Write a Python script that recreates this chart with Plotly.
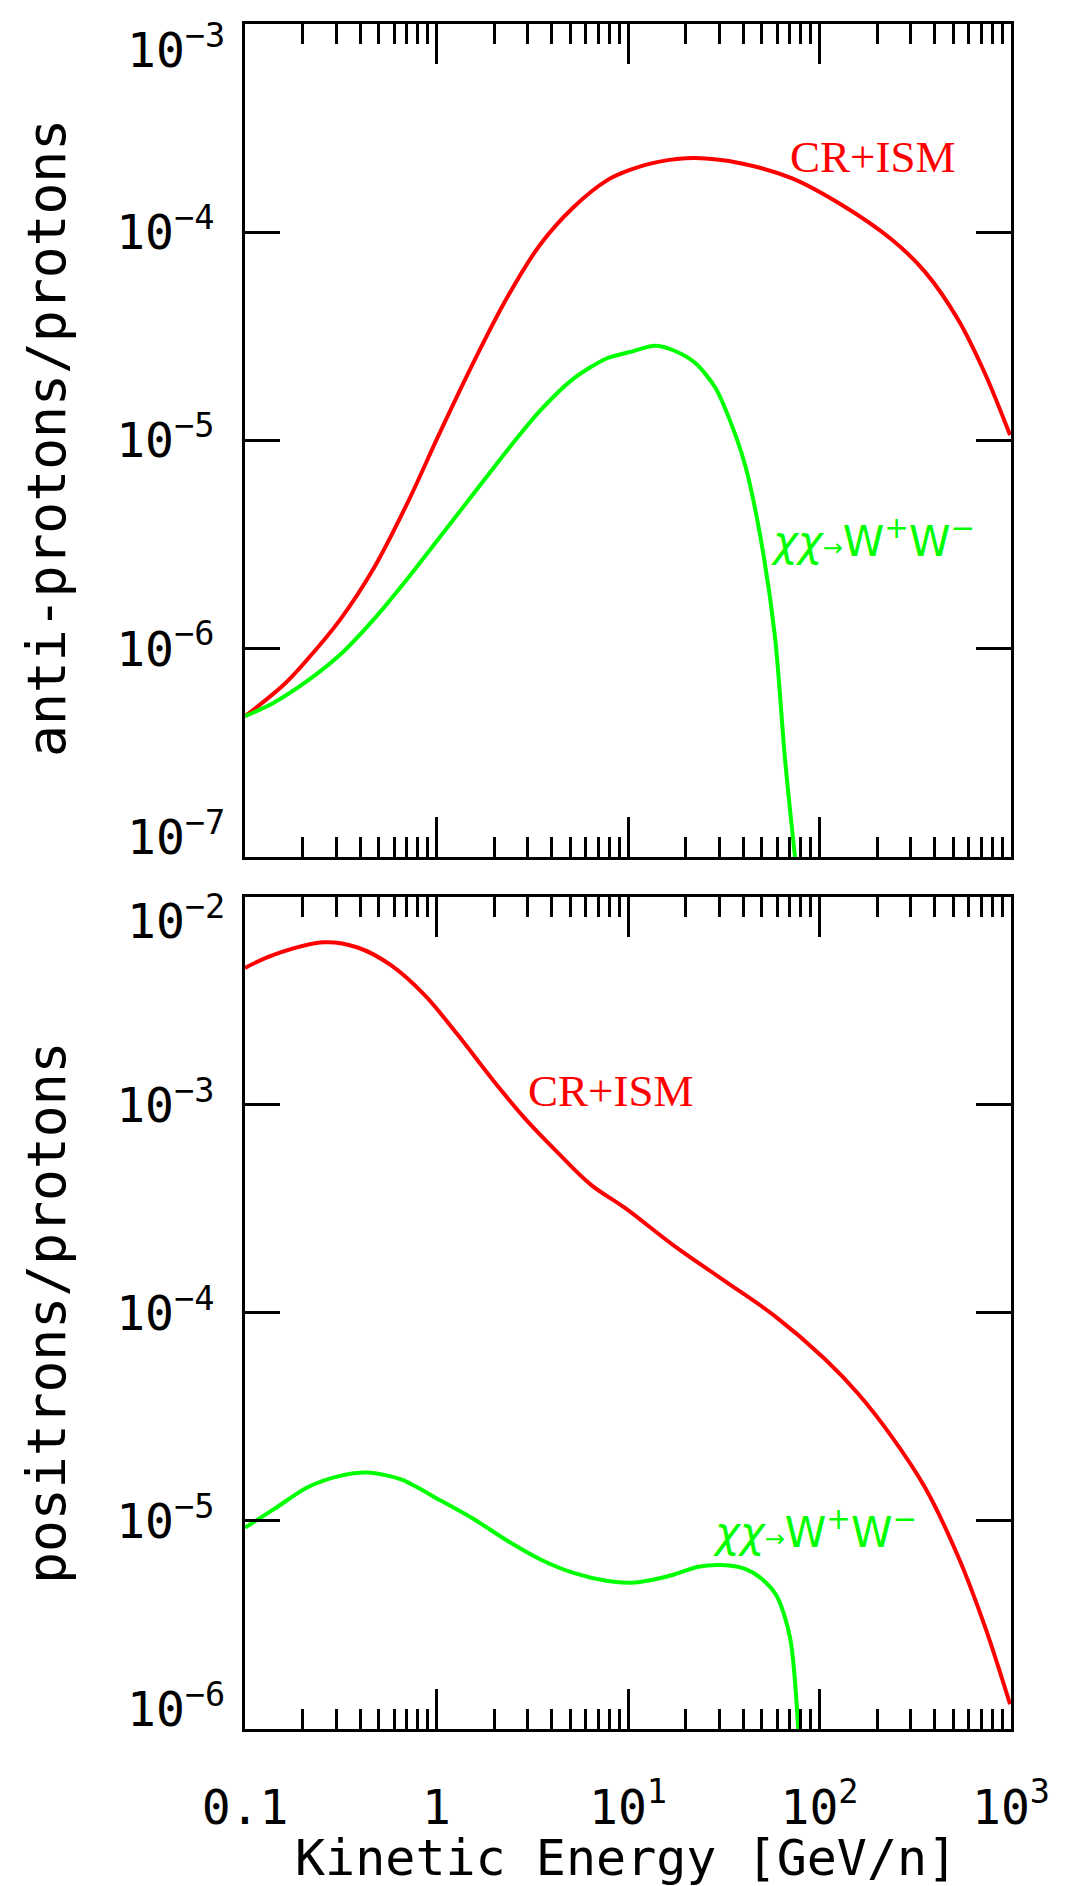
import plotly.graph_objects as go

# ---------------- data ----------------
# top panel: anti-protons / protons  (log10 of kinetic energy, log10 of ratio)
pbar_cr_logE = [-1.0, -0.795, -0.678, -0.504, -0.330, -0.156, 0.018, 0.192, 0.366, 0.540,
                0.714, 0.888, 1.01, 1.158, 1.350, 1.593, 1.854, 2.115, 2.377, 2.551,
                2.725, 2.864, 2.995]
pbar_cr_logV = [-6.324, -6.17, -6.055, -5.861, -5.617, -5.308, -4.961, -4.627, -4.318, -4.061,
                -3.881, -3.752, -3.701, -3.662, -3.644, -3.670, -3.740, -3.868, -4.035, -4.190,
                -4.421, -4.678, -4.974]

pbar_dm_logE = [-1.0, -0.852, -0.678, -0.504, -0.330, -0.156, 0.018, 0.192, 0.366, 0.540,
                0.714, 0.888, 1.01, 1.141, 1.245, 1.350, 1.454, 1.524, 1.611, 1.689,
                1.767, 1.820, 1.872]
pbar_dm_logV = [-6.324, -6.260, -6.157, -6.029, -5.861, -5.668, -5.463, -5.257, -5.051, -4.858,
                -4.704, -4.606, -4.575, -4.545, -4.570, -4.627, -4.743, -4.884, -5.116, -5.450,
                -5.939, -6.531, -7.0]

# bottom panel: positrons / protons
pos_cr_logE = [-1.0, -0.847, -0.586, -0.412, -0.238, -0.064, 0.111, 0.285, 0.459, 0.633,
               0.807, 0.984, 1.245, 1.506, 1.767, 2.028, 2.202, 2.377, 2.551, 2.725,
               2.864, 2.995]
pos_cr_logV = [-2.341, -2.277, -2.218, -2.243, -2.328, -2.470, -2.663, -2.869, -3.062, -3.229,
               -3.384, -3.495, -3.680, -3.847, -4.015, -4.221, -4.388, -4.594, -4.839, -5.173,
               -5.508, -5.881]

pos_dm_logE = [-1.0, -0.847, -0.673, -0.499, -0.359, -0.185, 0.024, 0.198, 0.372, 0.546,
               0.720, 0.894, 1.016, 1.123, 1.245, 1.367, 1.489, 1.611, 1.689, 1.776,
               1.846, 1.889]
pos_dm_logV = [-5.032, -4.942, -4.838, -4.782, -4.767, -4.800, -4.903, -4.993, -5.096, -5.186,
               -5.251, -5.289, -5.297, -5.284, -5.256, -5.220, -5.212, -5.230, -5.271, -5.359,
               -5.560, -6.0]

x_major = [0.1, 1, 10, 100, 1000]
x_major_text = ["0.1", "1", "10<sup>1</sup>", "10<sup>2</sup>", "10<sup>3</sup>"]
y_top_major = [1e-7, 1e-6, 1e-5, 1e-4, 1e-3]
y_top_text = ["10<sup>−7</sup>", "10<sup>−6</sup>", "10<sup>−5</sup>", "10<sup>−4</sup>", "10<sup>−3</sup>"]
y_bot_major = [1e-6, 1e-5, 1e-4, 1e-3, 1e-2]
y_bot_text = ["10<sup>−6</sup>", "10<sup>−5</sup>", "10<sup>−4</sup>", "10<sup>−3</sup>", "10<sup>−2</sup>"]

RED = "#ff0000"
GREEN = "#00ff00"
AXFONT = "DejaVu Sans Mono"


def pw(a):
    return [10.0 ** v for v in a]


fig = go.Figure()
fig.add_trace(go.Scatter(x=pw(pbar_cr_logE), y=pw(pbar_cr_logV), mode="lines",
                         line=dict(color=RED, width=4, shape="spline", smoothing=1.0),
                         xaxis="x", yaxis="y", showlegend=False))
fig.add_trace(go.Scatter(x=pw(pbar_dm_logE), y=pw(pbar_dm_logV), mode="lines",
                         line=dict(color=GREEN, width=4, shape="spline", smoothing=0.8),
                         xaxis="x", yaxis="y", showlegend=False))
fig.add_trace(go.Scatter(x=pw(pos_cr_logE), y=pw(pos_cr_logV), mode="lines",
                         line=dict(color=RED, width=4, shape="spline", smoothing=1.0),
                         xaxis="x2", yaxis="y2", showlegend=False))
fig.add_trace(go.Scatter(x=pw(pos_dm_logE), y=pw(pos_dm_logV), mode="lines",
                         line=dict(color=GREEN, width=4, shape="spline", smoothing=0.8),
                         xaxis="x2", yaxis="y2", showlegend=False))

minor_x = [m * 10.0 ** d for d in range(-1, 3) for m in range(2, 10)]

common_x = dict(type="log", range=[-1, 3], showgrid=False, zeroline=False,
                showline=True, linecolor="black", linewidth=3, mirror="ticks",
                ticks="inside", ticklen=40, tickwidth=3, tickcolor="black",
                tickvals=x_major,
                minor=dict(ticks="inside", ticklen=20, tickwidth=3, tickcolor="black",
                           tickvals=minor_x, showgrid=False))
common_y = dict(type="log", showgrid=False, zeroline=False,
                showline=True, linecolor="black", linewidth=3, mirror="ticks",
                ticks="inside", ticklen=35, tickwidth=3, tickcolor="black",
                tickfont=dict(family=AXFONT, size=48, color="black"),
                ticklabelstandoff=18)

# edge labels are drawn as annotations so they can sit inside the panel edges
top_ticktext = [""] + y_top_text[1:-1] + [""]
bot_ticktext = [""] + y_bot_text[1:-1] + [""]

fig.update_layout(
    width=1076, height=1886,
    margin=dict(l=245, r=65, t=24, b=157),
    paper_bgcolor="white", plot_bgcolor="white",
    xaxis=dict(**common_x, anchor="y", domain=[0, 1], showticklabels=False),
    yaxis=dict(**common_y, anchor="x", domain=[0.5114, 1.0], range=[-7, -3],
               tickvals=y_top_major, ticktext=top_ticktext),
    xaxis2=dict(**common_x, anchor="y2", domain=[0, 1], ticktext=x_major_text,
                tickfont=dict(family=AXFONT, size=48, color="black"), ticklabelstandoff=34),
    yaxis2=dict(**common_y, anchor="x2", domain=[0.0, 0.488], range=[-6, -2],
                tickvals=y_bot_major, ticktext=bot_ticktext),
)

label_tpl = "<i>χχ</i><span style='font-size:24px'>→</span>W<sup>+</sup>W<sup>−</sup>"
ann = [
    dict(text="anti-protons/protons", xref="paper", yref="paper",
         x=(46 - 245) / 766, y=(1729 - 438) / 1705, textangle=-90,
         xanchor="center", yanchor="middle",
         font=dict(family=AXFONT, size=53, color="black")),
    dict(text="positrons/protons", xref="paper", yref="paper",
         x=(46 - 245) / 766, y=(1729 - 1313) / 1705, textangle=-90,
         xanchor="center", yanchor="middle",
         font=dict(family=AXFONT, size=53, color="black")),
    dict(text="Kinetic Energy [GeV/n]", xref="paper", yref="paper",
         x=(626 - 245) / 766, y=(1729 - 1858) / 1705,
         xanchor="center", yanchor="middle",
         font=dict(family=AXFONT, size=50, color="black")),
    dict(text="CR+ISM", xref="x", yref="y", x=2.279, y=-3.639,
         xanchor="center", yanchor="middle",
         font=dict(family="Liberation Serif", size=45, color=RED)),
    dict(text=label_tpl, xref="x", yref="y", x=2.279, y=-5.468,
         xanchor="center", yanchor="middle",
         font=dict(family="DejaVu Sans", size=42, color=GREEN)),
    dict(text="CR+ISM", xref="x2", yref="y2", x=0.906, y=-2.933,
         xanchor="center", yanchor="middle",
         font=dict(family="Liberation Serif", size=45, color=RED)),
    dict(text=label_tpl, xref="x2", yref="y2", x=1.977, y=-5.043,
         xanchor="center", yanchor="middle",
         font=dict(family="DejaVu Sans", size=42, color=GREEN)),
    # edge tick labels
    dict(text=y_top_text[-1], xref="paper", yref="y", x=0, y=-3,
         xanchor="right", yanchor="top", xshift=-18, yshift=10,
         font=dict(family=AXFONT, size=48, color="black")),
    dict(text=y_top_text[0], xref="paper", yref="y", x=0, y=-7,
         xanchor="right", yanchor="bottom", xshift=-18, yshift=-10,
         font=dict(family=AXFONT, size=48, color="black")),
    dict(text=y_bot_text[-1], xref="paper", yref="y2", x=0, y=-2,
         xanchor="right", yanchor="top", xshift=-18, yshift=12,
         font=dict(family=AXFONT, size=48, color="black")),
    dict(text=y_bot_text[0], xref="paper", yref="y2", x=0, y=-6,
         xanchor="right", yanchor="bottom", xshift=-18, yshift=-10,
         font=dict(family=AXFONT, size=48, color="black")),
]
for a in ann:
    a.update(showarrow=False)
fig.update_layout(annotations=ann)

fig.write_html("out.html")
